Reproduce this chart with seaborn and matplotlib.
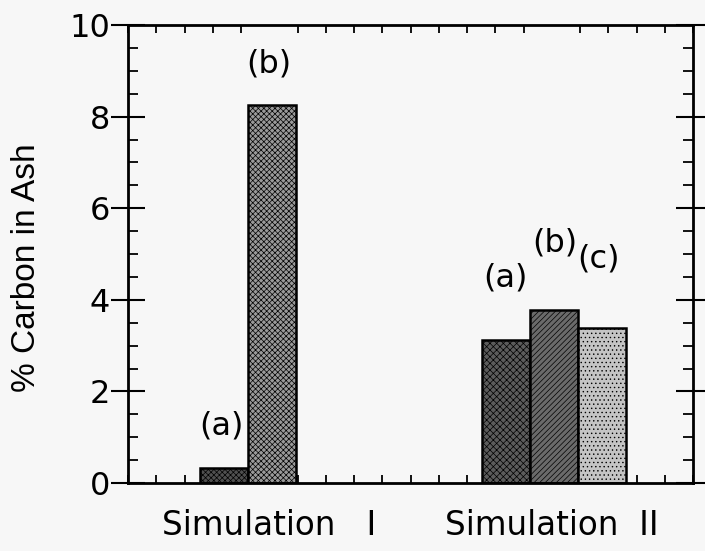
import matplotlib
matplotlib.use("Agg")
import matplotlib.pyplot as plt
import seaborn as sns
import pandas as pd
from matplotlib.ticker import MultipleLocator

# ---- data ----
groups = ["Simulation  I", "Simulation  I", "Simulation  II", "Simulation  II", "Simulation  II"]
cases = ["(a)", "(b)", "(a)", "(b)", "(c)"]
carbon = [0.33, 8.25, 3.12, 3.78, 3.38]
bar_pos = [3.4, 5.1, 13.38, 15.08, 16.78]
group_labels = ["Simulation   I", "Simulation  II"]
group_pos = [5.0, 15.0]
y_ticks = [0, 2, 4, 6, 8, 10]
label_x = [3.29, 4.99, 13.35, 15.12, 16.64]
label_y = [1.25, 9.15, 4.48, 5.24, 4.89]

bar_colors = ["#505050", "#9a9a9a", "#5c5c5c", "#6a6a6a", "#c4c4c4"]
bar_hatch = ["xxxxxx", "xxxxxx", "xxxxx", "//////", "...."]

sns.set_style("ticks")
plt.rcParams["hatch.linewidth"] = 0.5
plt.rcParams["font.family"] = ["DejaVu Sans"]
for k in ["text.color", "axes.labelcolor", "xtick.color", "ytick.color",
          "xtick.labelcolor", "ytick.labelcolor"]:
    plt.rcParams[k] = "black"

fig = plt.figure(figsize=(7.05, 5.51), dpi=100, facecolor="#f7f7f7")
ax = fig.add_axes([0.1816, 0.1234, 0.8014, 0.8312])
ax.set_facecolor("#f7f7f7")

df = pd.DataFrame({"pos": bar_pos, "carbon": carbon, "case": cases, "group": groups})
sns.barplot(data=df, x="pos", y="carbon", native_scale=True, width=1.0,
            color="#777777", edgecolor="black", linewidth=1.8, ax=ax, errorbar=None)

patches = sorted(ax.patches, key=lambda p: p.get_x())
for p, c, h in zip(patches, bar_colors, bar_hatch):
    p.set_facecolor(c)
    p.set_hatch(h)
    p.set_edgecolor("black")

for lx, ly, lab in zip(label_x, label_y, cases):
    ax.text(lx, ly, lab, ha="center", va="center", fontsize=23)

ax.set_xlim(0, 20)
ax.set_ylim(0, 10)
ax.set_yticks(y_ticks)
ax.set_yticklabels([str(v) for v in y_ticks], fontsize=23)
ax.yaxis.set_minor_locator(MultipleLocator(0.5))
ax.set_xticks(group_pos)
ax.set_xticklabels(group_labels, fontsize=23.5)
ax.xaxis.set_minor_locator(MultipleLocator(1))

ax.tick_params(axis="y", which="major", direction="inout", length=24, width=1.5,
               left=True, right=True, pad=1)
ax.tick_params(axis="y", which="minor", direction="in", length=7, width=1.3,
               left=True, right=True)
ax.tick_params(axis="x", which="major", length=0, pad=19)
ax.tick_params(axis="x", which="minor", direction="in", length=6, width=1.3,
               top=True, bottom=True)

for s in ax.spines.values():
    s.set_visible(True)
    s.set_linewidth(2)
    s.set_color("black")

ax.set_xlabel("")
ax.set_ylabel("% Carbon in Ash", fontsize=24, family=["Liberation Sans"])
ax.yaxis.set_label_coords(-0.152, 0.47)

fig.savefig("out.png", dpi=100, facecolor=fig.get_facecolor())
